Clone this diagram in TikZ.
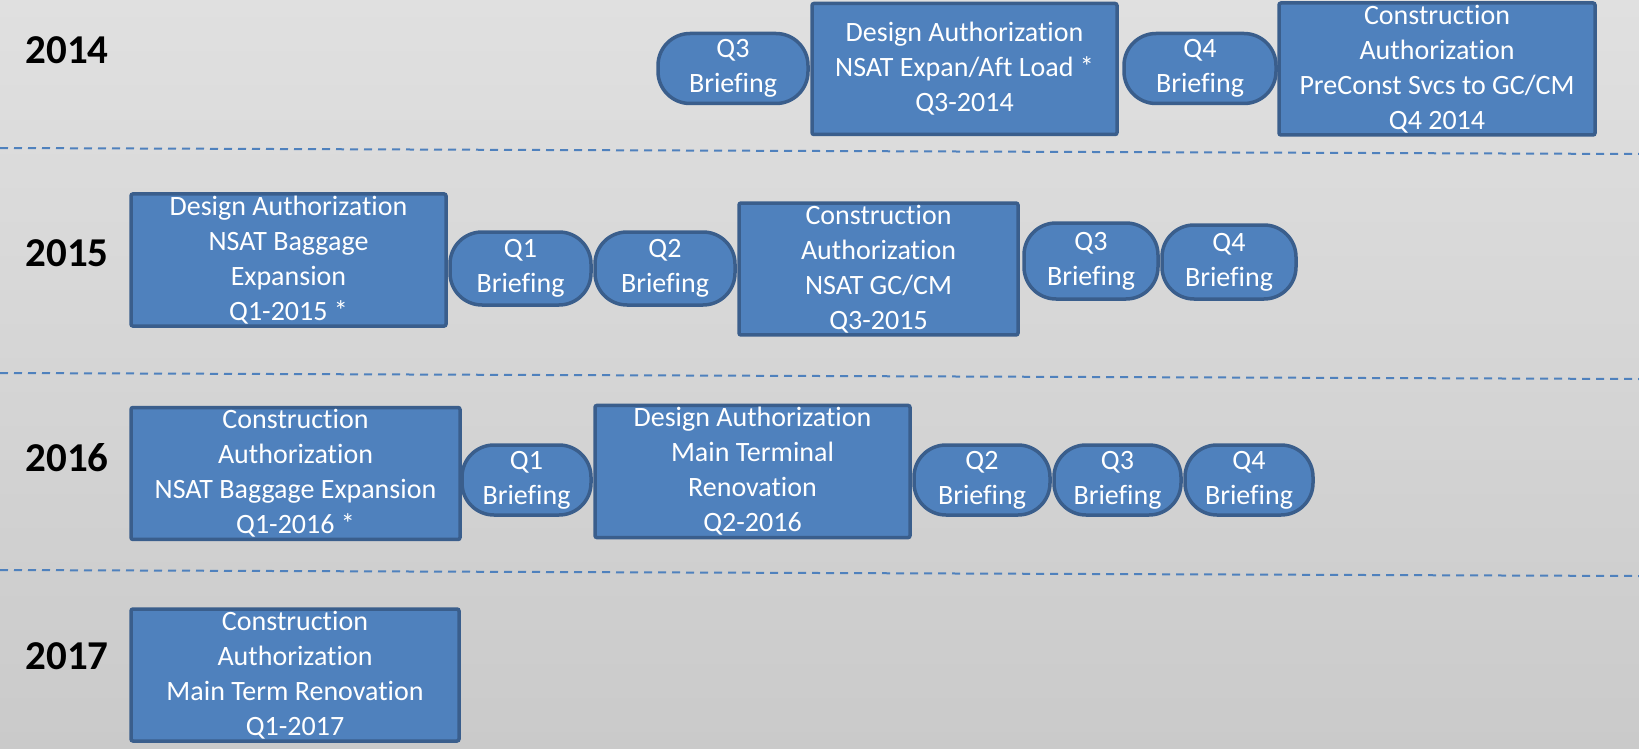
\documentclass[tikz,border=0pt]{standalone}
\usepackage{fontspec}
\setmainfont{Carlito}[Ligatures={NoCommon,NoRequired,NoContextual}]
\usepackage{tikz}
\usetikzlibrary{arrows.meta}

\definecolor{boxfill}{HTML}{4F81BD}
\definecolor{boxline}{HTML}{3A5E8C}
\definecolor{bgtop}{HTML}{E0E0E0}
\definecolor{bgbot}{HTML}{CACACA}

\tikzset{
  authbox/.style={draw=boxline,fill=boxfill,line width=3.5pt,rounded corners=2pt,
    text=white,align=center,inner sep=2pt,font=\fontsize{28}{35}\selectfont},
  briefing/.style={authbox,rounded corners=32pt},
  yearlabel/.style={font=\fontsize{41}{49}\selectfont\bfseries,text=black},
  sepline/.style={draw=boxfill,line width=2pt,dash pattern=on 8pt off 6pt}
}

\begin{document}
\begin{tikzpicture}[x=1pt,y=-1pt]
\useasboundingbox (0,0) rectangle (1639,749);
\shade[top color=bgtop,bottom color=bgbot] (0,0) rectangle (1639,749);

\draw [sepline] (0,148) -- (1639,154);
\draw [sepline] (0,373) -- (1639,379);
\draw [sepline] (0,570) -- (1639,576);

%2014
\draw (67,50) node[yearlabel] (y14) {2014};
\draw (733,68.5) node[briefing,minimum width=150pt,minimum height=70pt] (q3a) {Q3\\Briefing};
\draw (964.5,69) node[authbox,minimum width=305pt,minimum height=131pt] (da14) {Design Authorization\\NSAT Expan/Aft Load *\\Q3-2014};
\draw (1200,68.5) node[briefing,minimum width=152pt,minimum height=70pt] (q4a) {Q4\\Briefing};
\draw (1437,69) node[authbox,minimum width=316pt,minimum height=132pt] (ca14) {Construction\\Authorization\\PreConst Svcs to GC/CM\\Q4 2014};

%2015
\draw (67,253) node[yearlabel] (y15) {2015};
\draw (288.5,260) node[authbox,minimum width=315pt,minimum height=132pt] (da15) {Design Authorization\\NSAT Baggage\\Expansion\\Q1-2015 *};
\draw (520.5,268.5) node[briefing,minimum width=141pt,minimum height=73pt] (q1b) {Q1\\Briefing};
\draw (665,268.5) node[briefing,minimum width=140pt,minimum height=73pt] (q2b) {Q2\\Briefing};
\draw (878.5,269) node[authbox,minimum width=279pt,minimum height=130pt] (ca15) {Construction\\Authorization\\NSAT GC/CM\\Q3-2015};
\draw (1091,261) node[briefing,minimum width=134pt,minimum height=76pt] (q3b) {Q3\\Briefing};
\draw (1229,262) node[briefing,minimum width=134pt,minimum height=74pt] (q4b) {Q4\\Briefing};

%2016
\draw (67,458) node[yearlabel] (y16) {2016};
\draw (295.5,473.5) node[authbox,minimum width=329pt,minimum height=131pt] (ca16) {Construction\\Authorization\\NSAT Baggage Expansion\\Q1-2016 *};
\draw (526.5,480) node[briefing,minimum width=129pt,minimum height=70pt] (q1c) {Q1\\Briefing};
\draw (752.5,471.5) node[authbox,minimum width=315pt,minimum height=131pt] (da16) {Design Authorization\\Main Terminal\\Renovation\\Q2-2016};
\draw (982,480) node[briefing,minimum width=136pt,minimum height=70pt] (q2c) {Q2\\Briefing};
\draw (1117.5,480) node[briefing,minimum width=127pt,minimum height=70pt] (q3c) {Q3\\Briefing};
\draw (1249,480) node[briefing,minimum width=128pt,minimum height=70pt] (q4c) {Q4\\Briefing};

%2017
\draw (67,656) node[yearlabel] (y17) {2017};
\draw (295,675) node[authbox,minimum width=328pt,minimum height=132pt] (ca17) {Construction\\Authorization\\Main Term Renovation\\Q1-2017};

\end{tikzpicture}
\end{document}
